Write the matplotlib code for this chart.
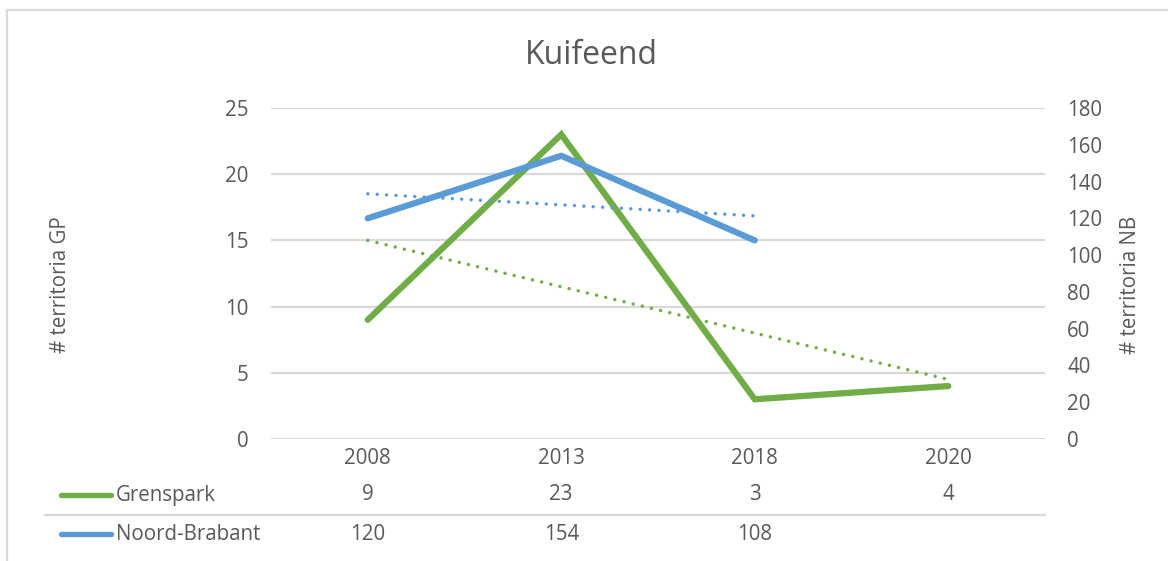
import numpy as np
import matplotlib.pyplot as plt
from matplotlib.lines import Line2D
from matplotlib.transforms import blended_transform_factory

plt.rcParams['font.family'] = ['Open Sans', 'DejaVu Sans']

years = ["2008", "2013", "2018", "2020"]
grenspark = [9, 23, 3, 4]
noord_brabant = [120, 154, 108]

green = "#70AD47"
blue = "#5B9BD5"
txt = "#595959"
grid = "#D9D9D9"
fs = 14.8

W, H = 1168, 561
fig = plt.figure(figsize=(W / 100, H / 100), dpi=100)


def fx(px):
    return px / W


def fy(py):
    return 1 - py / H


ax = fig.add_axes([fx(271), fy(439), fx(1045) - fx(271), fy(108) - fy(439)])
ax2 = ax.twinx()

x_gp = np.arange(len(grenspark))
x_nb = np.arange(len(noord_brabant))

# linear trend lines (like Excel's trendline)
p_gp = np.polyfit(x_gp, grenspark, 1)
p_nb = np.polyfit(x_nb, noord_brabant, 1)

dots = (0, (0.01, 2.7))
ax.plot(x_gp, np.polyval(p_gp, x_gp), color=green, lw=2.5,
        linestyle=dots, dash_capstyle="round", zorder=3)
ax.plot(x_gp, grenspark, color=green, lw=4.5, solid_capstyle="round",
        solid_joinstyle="miter", zorder=4)
ax2.plot(x_nb, np.polyval(p_nb, x_nb), color=blue, lw=2.5,
         linestyle=dots, dash_capstyle="round", zorder=3)
ax2.plot(x_nb, noord_brabant, color=blue, lw=4.5, solid_capstyle="round",
         solid_joinstyle="miter", zorder=4)

ax.set_xlim(-0.5, len(years) - 0.5)
ax.set_ylim(0, 25)
ax.set_yticks(np.arange(0, 26, 5))
ax2.set_ylim(0, 180)
ax2.set_yticks(np.arange(0, 181, 20))
ax.set_xticks([])
ax.yaxis.grid(True, color=grid, lw=1.6)
ax.set_axisbelow(True)

for a in (ax, ax2):
    for s in a.spines.values():
        s.set_visible(False)
    a.tick_params(axis="y", length=0, labelsize=fs, labelcolor=txt, pad=16)
ax2.set_zorder(ax.get_zorder() + 1)

fig.text(fx(591), fy(55), "Kuifeend", fontsize=23, color=txt,
         ha="center", va="center")
fig.text(fx(60), fy(285), "# territoria GP", fontsize=fs, color=txt,
         rotation=90, ha="center", va="center")
fig.text(fx(1130), fy(285), "# territoria NB", fontsize=fs, color=txt,
         rotation=90, ha="center", va="center")

# data table below the chart
tr = blended_transform_factory(ax.transData, fig.transFigure)
for i, y in enumerate(years):
    ax.text(i, fy(459), y, transform=tr, ha="center", va="center",
            fontsize=fs, color=txt, clip_on=False)
for i, v in enumerate(grenspark):
    ax.text(i, fy(495), str(v), transform=tr, ha="center", va="center",
            fontsize=fs, color=txt, clip_on=False)
for i, v in enumerate(noord_brabant):
    ax.text(i, fy(534), str(v), transform=tr, ha="center", va="center",
            fontsize=fs, color=txt, clip_on=False)

rows = [("Grenspark", green, 495), ("Noord-Brabant", blue, 534)]
for name, col, yy in rows:
    fig.add_artist(Line2D([fx(61), fx(111)], [fy(yy), fy(yy)], color=col,
                          lw=3.9, solid_capstyle="round"))
    fig.text(fx(116), fy(yy), name, fontsize=fs, color=txt,
             ha="left", va="center")

fig.add_artist(Line2D([fx(45), fx(1045)], [fy(515), fy(515)], color=grid, lw=1.6))

# chart border
fig.add_artist(Line2D([fx(7), fx(7)], [fy(10), 0], color=grid, lw=1.6))
fig.add_artist(Line2D([fx(7), 1], [fy(10), fy(10)], color=grid, lw=1.6))

fig.savefig("out.png", dpi=100, facecolor="white")
